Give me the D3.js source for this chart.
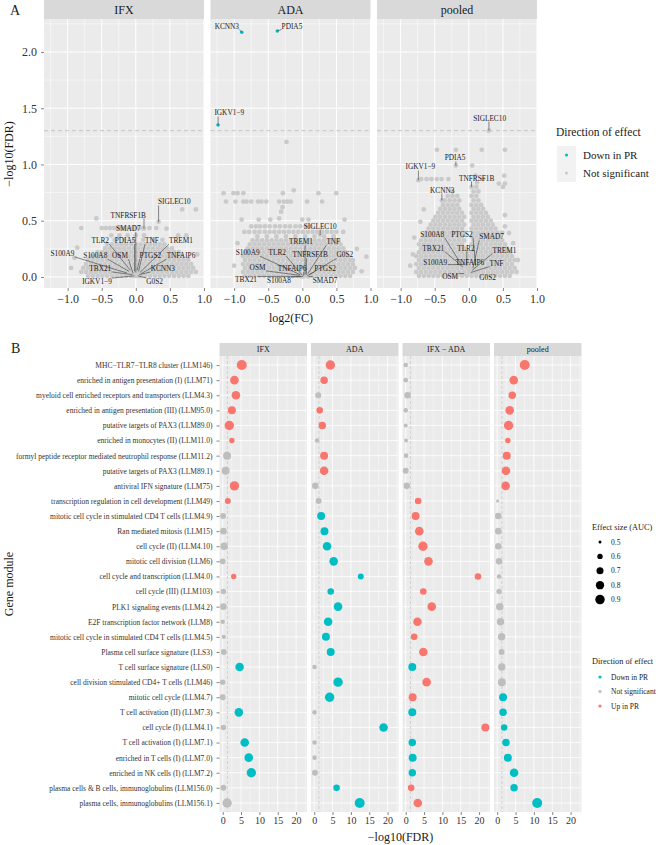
<!DOCTYPE html>
<html><head><meta charset="utf-8">
<script src="https://cdn.jsdelivr.net/npm/d3@7"></script>
<style>
body{margin:0;background:#fff;}
svg text{font-family:"Liberation Serif","Times New Roman",serif;}
</style></head>
<body><svg id="chart" width="665" height="845"></svg>
<script>
// ================= DATA =================
const volcanoFacets = ["IFX","ADA","pooled"];
const xTicksA = [-1.0,-0.5,0.0,0.5,1.0];
const yTicksA = [0.0,0.5,1.0,1.5,2.0];
const fdrThreshold = 1.3;

// dense clouds of non-significant genes: [-log10FDR level, [log2FC values]]
const cloudIFX = [
 [.01, [-.70,-.63,-.56,-.49,-.42,-.35,-.28,-.21,-.14,-.07,0,.07,.14,.21,.28,.35,.42,.49,.56,.63,.70,.77]],
 [.045,[-.80,-.73,-.66,-.59,-.52,-.45,-.38,-.31,-.24,-.17,-.10,-.03,.04,.11,.18,.25,.32,.39,.46,.53,.60,.67,.74,.81,.88]],
 [.08, [-.77,-.70,-.63,-.56,-.49,-.42,-.35,-.28,-.21,-.14,-.07,0,.07,.14,.21,.28,.35,.42,.49,.56,.63,.70,.77,.84]],
 [.115,[-.73,-.66,-.59,-.52,-.45,-.38,-.31,-.24,-.17,-.10,-.03,.04,.11,.18,.25,.32,.39,.46,.53,.60,.67,.74,.81]],
 [.15, [-.70,-.63,-.56,-.49,-.42,-.35,-.28,-.21,-.14,-.07,0,.07,.14,.21,.28,.35,.42,.49,.56,.63,.70,.77]],
 [.185,[-.66,-.59,-.52,-.45,-.38,-.31,-.24,-.17,-.10,-.03,.04,.11,.18,.25,.32,.39,.46,.53,.60,.67]],
 [.22, [-.56,-.49,-.42,-.35,-.28,-.21,-.14,-.07,0,.07,.14,.21,.28,.35,.42,.49,.56,.63]],
 [.255,[-.45,-.38,-.31,-.24,-.17,-.10,-.03,.04,.11,.18,.25,.32,.39,.46,.53]],
 [.29, [-.42,-.35,-.28,-.21,-.14,-.07,0,.07,.14,.21,.28,.35,.42]],
 [.33, [-.31,-.17,-.03,.11,.25,.39]],
 [.37, [-.36,-.24,-.12,0,.12,.74]],
 [.435,[-.80,-.50,-.44,-.38,-.32,-.26,-.20,-.14,-.08,-.02,.04,.10,.20,.30]]
];
const scatterIFX = [[-.58,.52],[.68,.6],[.88,.6],[.45,.43],[.62,.37],[-.9,.17],[-.86,.26],[.9,.2],[-.95,.08]];

const cloudADA = [
 [.01, [-.84,-.77,-.70,-.63,-.56,-.49,-.42,-.35,-.28,-.21,-.14,-.07,0,.07,.14,.21,.28,.35,.42,.49,.56,.63,.70]],
 [.045,[-.87,-.80,-.73,-.66,-.59,-.52,-.45,-.38,-.31,-.24,-.17,-.10,-.03,.04,.11,.18,.25,.32,.39,.46,.53,.60,.67,.74]],
 [.08, [-.84,-.77,-.70,-.63,-.56,-.49,-.42,-.35,-.28,-.21,-.14,-.07,0,.07,.14,.21,.28,.35,.42,.49,.56,.63,.70,.77]],
 [.115,[-.87,-.80,-.73,-.66,-.59,-.52,-.45,-.38,-.31,-.24,-.17,-.10,-.03,.04,.11,.18,.25,.32,.39,.46,.53,.60,.67,.74]],
 [.15, [-.84,-.77,-.70,-.63,-.56,-.49,-.42,-.35,-.28,-.21,-.14,-.07,0,.07,.14,.21,.28,.35,.42,.49,.56,.63,.70]],
 [.185,[-.87,-.80,-.73,-.66,-.59,-.52,-.45,-.38,-.31,-.24,-.17,-.10,-.03,.04,.11,.18,.25,.32,.39,.46,.53,.60,.67]],
 [.22, [-.84,-.77,-.70,-.63,-.56,-.49,-.42,-.35,-.28,-.21,-.14,-.07,0,.07,.14,.21,.28,.35,.42,.49,.56,.63]],
 [.255,[-.80,-.73,-.66,-.59,-.52,-.45,-.38,-.31,-.24,-.17,-.10,-.03,.04,.11,.18,.25,.32,.39,.46,.53,.60]],
 [.29, [-.77,-.70,-.63,-.56,-.49,-.42,-.35,-.28,-.21,-.14,-.07,0,.07,.14,.21,.28,.35,.42,.49,.56]],
 [.325,[-.73,-.66,-.59,-.52,-.45,-.38,-.31,-.24,-.17,-.10,-.03,.04,.11,.18,.25,.32,.39,.46,.53]],
 [.36, [-.66,-.52,-.38,-.24,-.10,.04,.18,.32,.46]],
 [.40, [-.85,-.78,-.70,-.63,-.55,-.48,-.41,-.34,-.27,-.20,-.13,-.06,.01,.08,.15,.22,.29,.36,.43,.50,.60]],
 [.45, [-.75,-.68,-.62,-.55,-.48,-.40,-.33,-.25,-.18,-.10,-.03,.05,.12]],
 [.51, [-.89,-.64,-.47,0,.09,.62]],
 [.67, [-1.12,-.98,-.865,-.82,-.75,-.65,-.60,-.53,-.34,-.27,-.22,-.17,.07,.29]],
 [.745,[-1.155,-1.01,-.95,-.865,-.285,.236,.497]]
];
const scatterADA = [[-.126,.77],[-.31,.58],[-.29,.62],[-.34,.52],[-.232,1.2],[.74,.15],[.87,.05],[.94,.18],[.8,.25],[-1.0,.1],[-.95,.3]];

const cloudPooled = [
 [.01, [-.73,-.66,-.59,-.52,-.45,-.38,-.31,-.24,-.17,-.10,-.03,.04,.11,.18,.25,.32,.39,.46,.53,.60]],
 [.045,[-.77,-.70,-.63,-.56,-.49,-.42,-.35,-.28,-.21,-.14,-.07,0,.07,.14,.21,.28,.35,.42,.49,.56,.63,.70]],
 [.08, [-.73,-.66,-.59,-.52,-.45,-.38,-.31,-.24,-.17,-.10,-.03,.04,.11,.18,.25,.32,.39,.46,.53,.60,.67]],
 [.115,[-.77,-.70,-.63,-.56,-.49,-.42,-.35,-.28,-.21,-.14,-.07,0,.07,.14,.21,.28,.35,.42,.49,.56,.63]],
 [.15, [-.73,-.66,-.59,-.52,-.45,-.38,-.31,-.24,-.17,-.10,-.03,.04,.11,.18,.25,.32,.39,.46,.53,.60,.67]],
 [.185,[-.77,-.70,-.63,-.56,-.49,-.42,-.35,-.28,-.21,-.14,-.07,0,.07,.14,.21,.28,.35,.42,.49,.56,.63]],
 [.22, [-.73,-.66,-.59,-.52,-.45,-.38,-.31,-.24,-.17,-.10,-.03,.04,.11,.18,.25,.32,.39,.46,.53,.60]],
 [.255,[-.70,-.63,-.56,-.49,-.42,-.35,-.28,-.21,-.14,-.07,.07,.14,.21,.28,.35,.42,.49,.56]],
 [.29, [-.73,-.66,-.59,-.52,-.45,-.38,-.31,-.24,-.17,-.10,.04,.11,.18,.25,.32,.39,.46,.53]],
 [.325,[-.70,-.63,-.56,-.49,-.42,-.35,-.28,-.21,-.14,-.07,.07,.14,.21,.28,.35,.42,.49]],
 [.36, [-.66,-.59,-.52,-.45,-.38,-.31,-.24,-.17,-.10,.04,.11,.18,.25,.32,.39,.46]],
 [.395,[-.63,-.56,-.49,-.42,-.35,-.28,-.21,-.14,-.07,.07,.14,.21,.28,.35,.42,.49]],
 [.43, [-.59,-.52,-.45,-.38,-.31,-.24,-.17,-.10,.04,.11,.18,.25,.32,.39]],
 [.465,[-.56,-.49,-.42,-.35,-.28,-.21,-.14,-.07,.07,.14,.21,.28,.35]],
 [.50, [-.52,-.45,-.38,-.31,-.24,-.17,-.10,.04,.11,.18,.25,.32]],
 [.535,[-.49,-.42,-.35,-.28,-.21,-.14,-.07,.07,.14,.21,.28]],
 [.57, [-.45,-.38,-.31,-.24,-.17,-.10,.04,.11,.18,.25]],
 [.605,[-.42,-.35,-.28,-.21,-.14,.07,.14,.21]],
 [.64, [-.38,-.31,-.24,-.17,.04,.11,.18]],
 [.68, [-.35,-.28,-.21,-.14,.07,.14]],
 [.72, [-.31,-.24,-.17,.04,.11]],
 [.76, [-.24,.07,.14]],
 [.80, [.11]]
];
const scatterPooled = [[-.71,.49],[.59,.39],[.53,.45],[.53,.55],[-.66,.6],[-.468,1.13],[-.19,1.13],[.19,1.13],[.53,1.13],[.05,.99],
 [-.7,.87],[-.62,.87],[-.55,.87],[-.47,.87],[-.4,.87],[-.3,.87],[.21,.87],[.44,.83],[.5,.8],[.53,.83],[.52,.9],[.1,.9],[.12,.84],
 [-.82,.2],[-.8,.35],[.72,.15],[.65,.3],[-.86,.1]];

// labelled genes: [gene, log2FC, -log10FDR, label log2FC, label -log10FDR, direction]
const genesIFX = [
 ["SIGLEC10",.334,.49,.565,.667,"ns"],["TNFRSF1B",.12,.43,-.111,.551,"ns"],["SMAD7",0,.04,-.111,.433,"ns"],
 ["TLR2",-.08,.06,-.521,.323,"ns"],["PDIA5",-.02,.05,-.159,.323,"ns"],["TNF",.04,.05,.236,.323,"ns"],
 ["TREM1",.06,.04,.662,.323,"ns"],["S100A9",-.13,.035,-1.077,.21,"ns"],["S100A8",-.1,.05,-.594,.19,"ns"],
 ["OSM",-.04,.03,-.232,.19,"ns"],["PTGS2",.02,.06,.213,.19,"ns"],["TNFAIP6",.08,.03,.662,.19,"ns"],
 ["TBX21",-.05,.02,-.521,.077,"ns"],["KCNN3",.05,.02,.396,.077,"ns"],["IGKV1−9",-.02,.01,-.57,-.04,"ns"],
 ["G0S2",.03,.01,.275,-.04,"ns"]
];
const genesADA = [
 ["KCNN3",-.888,2.175,-1.108,2.231,"down"],["PDIA5",-.367,2.187,-.152,2.231,"down"],["IGKV1−9",-1.236,1.351,-1.072,1.458,"down"],
 ["SIGLEC10",.261,.373,.261,.453,"ns"],["TREM1",.04,.02,-.019,.314,"ns"],["TNF",.08,.03,.454,.314,"ns"],
 ["S100A9",-.03,.02,-.802,.216,"ns"],["TLR2",0,.015,-.367,.216,"ns"],["TNFRSF1B",.06,.02,.116,.196,"ns"],
 ["G0S2",.1,.02,.623,.196,"ns"],["OSM",-.04,.015,-.657,.086,"ns"],["TNFAIP6",.02,.01,-.15,.077,"ns"],
 ["PTGS2",.07,.01,.334,.077,"ns"],["TBX21",-.02,.005,-.826,-.02,"ns"],["S100A8",.01,.005,-.343,-.032,"ns"],
 ["SMAD7",.09,.005,.334,-.027,"ns"]
];
const genesPooled = [
 ["SIGLEC10",.295,1.30,.305,1.413,"ns"],["PDIA5",-.19,.99,-.203,1.058,"ns"],["IGKV1−9",-.74,.86,-.71,.978,"ns"],
 ["TNFRSF1B",.04,.80,.116,.88,"ns"],["KCNN3",-.395,.68,-.391,.773,"ns"],["S100A8",-.12,.12,-.536,.382,"ns"],
 ["PTGS2",.1,.1,-.101,.382,"ns"],["SMAD7",.06,.08,.334,.356,"ns"],["TBX21",-.09,.09,-.521,.258,"ns"],
 ["TLR2",-.03,.1,-.043,.258,"ns"],["TREM1",.05,.06,.522,.24,"ns"],["S100A9",-.06,.11,-.492,.133,"ns"],
 ["TNFAIP6",0,.08,.015,.133,"ns"],["TNF",.03,.04,.406,.124,"ns"],["OSM",-.07,.03,-.275,.009,"ns"],
 ["G0S2",.12,.04,.276,0,"ns"]
];

// ----- Panel B -----
const modules = [
 "MHC−TLR7−TLR8 cluster (LLM146)","enriched in antigen presentation (I) (LLM71)",
 "myeloid cell enriched receptors and transporters (LLM4.3)","enriched in antigen presentation (III) (LLM95.0)",
 "putative targets of PAX3 (LLM89.0)","enriched in monocytes (II) (LLM11.0)",
 "formyl peptide receptor mediated neutrophil response (LLM11.2)","putative targets of PAX3 (LLM89.1)",
 "antiviral IFN signature (LLM75)","transcription regulation in cell development (LLM49)",
 "mitotic cell cycle in stimulated CD4 T cells (LLM4.9)","Ran mediated mitosis (LLM15)",
 "cell cycle (II) (LLM4.10)","mitotic cell division (LLM6)","cell cycle and transcription (LLM4.0)",
 "cell cycle (III) (LLM103)","PLK1 signaling events (LLM4.2)","E2F transcription factor network (LLM8)",
 "mitotic cell cycle in stimulated CD4 T cells (LLM4.5)","Plasma cell surface signature (LLS3)",
 "T cell surface signature (LLS0)","cell division stimulated CD4+ T cells (LLM46)","mitotic cell cycle (LLM4.7)",
 "T cell activation (II) (LLM7.3)","cell cycle (I) (LLM4.1)","T cell activation (I) (LLM7.1)",
 "enriched in T cells (I) (LLM7.0)","enriched in NK cells (I) (LLM7.2)",
 "plasma cells & B cells, immunoglobulins (LLM156.0)","plasma cells, immunoglobulins (LLM156.1)"
];
const moduleFacets = ["IFX","ADA","IFX − ADA","pooled"];
const xTicksB = [0,5,10,15,20];
const fdrIFX = [5.2,3.2,3.6,2.5,1.8,2.5,1.2,0.8,3.2,1.4,0.1,0.2,0.4,0.0,3.0,0.2,0.2,0.0,0.3,0.3,4.6,0.0,0.0,4.4,0.2,6.0,7.1,7.8,0.2,1.2];
const aucIFX = [.95,.82,.82,.77,.89,.60,.77,.77,.89,.63,.63,.67,.73,.63,.60,.60,.67,.56,.55,.63,.82,.60,.63,.82,.60,.82,.82,.89,.63,.89];
const dirIFX = ["U","U","U","U","U","U","N","N","U","U","N","N","N","N","U","N","N","N","N","N","D","N","N","D","N","D","D","D","N","N"];
const fdrADA = [4.4,2.7,1.1,1.5,2.2,0.8,2.7,2.7,0.3,1.2,1.9,2.8,3.5,5.3,12.7,4.5,6.5,3.8,3.2,4.5,0.1,6.5,4.2,0.1,18.9,0.1,0.1,0.2,6.1,12.4];
const aucADA = [.89,.73,.63,.67,.73,.56,.77,.82,.67,.63,.77,.77,.82,.82,.63,.67,.82,.82,.77,.77,.56,.89,.89,.56,.82,.56,.56,.63,.67,.95];
const dirADA = ["U","U","N","U","U","N","U","U","N","N","D","D","D","D","D","D","D","D","D","D","N","D","D","N","D","N","N","N","D","D"];
const fdrDiff = [0.0,0.0,0.5,0.0,0.0,0.1,0.1,0.0,0.3,3.4,2.7,3.7,4.7,6.2,19.7,4.8,7.1,3.2,2.3,4.8,1.8,5.7,1.9,1.8,21.7,1.8,1.9,1.8,1.5,3.3];
const aucDiff = [.56,.56,.67,.56,.53,.53,.56,.63,.67,.67,.77,.82,.89,.82,.67,.67,.82,.82,.67,.82,.77,.82,.77,.77,.77,.73,.77,.73,.67,.82];
const dirDiff = ["N","N","N","N","N","N","N","N","N","U","U","U","U","U","U","U","U","U","U","U","D","U","U","D","U","D","D","D","U","U"];
const fdrPooled = [7.5,4.5,4.1,3.4,3.1,2.9,2.6,2.4,2.3,0.1,0.3,0.3,0.3,0.5,0.5,0.5,0.7,0.9,1.2,1.2,1.25,1.28,1.6,1.6,1.9,2.4,2.9,4.6,4.6,10.9];
const aucPooled = [.95,.82,.73,.82,.89,.60,.77,.82,.82,.50,.67,.67,.67,.67,.56,.60,.73,.73,.73,.63,.73,.77,.77,.73,.67,.73,.77,.82,.73,.95];
const dirPooled = ["U","U","U","U","U","U","U","U","U","N","N","N","N","N","N","N","N","N","N","N","N","N","D","D","D","D","D","D","D","D"];
const sizeBreaks = [0.5,0.6,0.7,0.8,0.9];
const directionLabels = {D:"Down in PR", N:"Not significant", U:"Up in PR"};

// ================= DRAWING =================
const RED="#F8766D", TEAL="#00BFC4", GREY="#BEBEBE", PANEL="#EBEBEB", STRIP="#D9D9D9", TXT="#333333";
const dirColor = {D:TEAL, N:GREY, U:RED, down:TEAL, ns:"#CACACA"};
const svg = d3.select("#chart");

function styleAxis(g, size){
  g.select(".domain").remove();
  g.selectAll(".tick line").attr("stroke","#333").attr("stroke-width",0.6);
  g.selectAll(".tick text").attr("fill",TXT).attr("font-size",size)
   .attr("font-family",'"Liberation Serif","Times New Roman",serif');
}

// ---------- Panel A ----------
const aTop=19, aBot=288, aW=160, aLefts=[44,210.5,377];
const xA = d3.scaleLinear().domain([-1.347,1.0]).range([0,aW]);
const yA = d3.scaleLinear().domain([-0.098,2.293]).range([aBot,aTop]);
const clouds = {IFX:cloudIFX, ADA:cloudADA, pooled:cloudPooled};
const scatters = {IFX:scatterIFX, ADA:scatterADA, pooled:scatterPooled};
const genes = {IFX:genesIFX, ADA:genesADA, pooled:genesPooled};

svg.append("text").attr("x",10).attr("y",15).attr("font-size",14).attr("fill","#222").text("A");

volcanoFacets.forEach((f,i)=>{
  const g = svg.append("g").attr("transform",`translate(${aLefts[i]},0)`);
  g.append("rect").attr("y",aTop).attr("width",aW).attr("height",aBot-aTop).attr("fill",PANEL);
  const xMinor=[-1.25,-0.75,-0.25,0.25,0.75], yMinor=[0.25,0.75,1.25,1.75,2.25];
  g.selectAll(null).data(xMinor).join("line").attr("x1",d=>xA(d)).attr("x2",d=>xA(d)).attr("y1",aTop).attr("y2",aBot).attr("stroke","#fff").attr("stroke-width",0.5);
  g.selectAll(null).data(yMinor).join("line").attr("y1",d=>yA(d)).attr("y2",d=>yA(d)).attr("x1",0).attr("x2",aW).attr("stroke","#fff").attr("stroke-width",0.5);
  g.selectAll(null).data(xTicksA).join("line").attr("x1",d=>xA(d)).attr("x2",d=>xA(d)).attr("y1",aTop).attr("y2",aBot).attr("stroke","#fff").attr("stroke-width",1);
  g.selectAll(null).data(yTicksA).join("line").attr("y1",d=>yA(d)).attr("y2",d=>yA(d)).attr("x1",0).attr("x2",aW).attr("stroke","#fff").attr("stroke-width",1);

  // threshold
  g.append("line").attr("x1",0).attr("x2",aW).attr("y1",yA(fdrThreshold)).attr("y2",yA(fdrThreshold))
    .attr("stroke","#C4C4C4").attr("stroke-width",1).attr("stroke-dasharray","4,3");
  // points
  const pts = [];
  clouds[f].forEach(([y,xs])=>xs.forEach(x=>pts.push([x,y])));
  scatters[f].forEach(p=>pts.push(p));
  g.append("g").selectAll("circle").data(pts).join("circle")
    .attr("cx",d=>xA(d[0])).attr("cy",d=>yA(d[1])).attr("r",2.4)
    .attr("fill","#CACACA");
  // gene points
  g.append("g").selectAll("circle").data(genes[f]).join("circle")
    .attr("cx",d=>xA(d[1])).attr("cy",d=>yA(d[2])).attr("r",d=>d[5]==="down"?1.8:2.4)
    .attr("fill",d=>dirColor[d[5]]);
  // labels + segments
  const lg = g.append("g");
  genes[f].forEach(d=>{
    const t = lg.append("text").attr("x",xA(d[3])).attr("y",yA(d[4])).attr("dy","0.35em")
      .attr("text-anchor","middle").attr("font-size",7.3).attr("fill","#1a1a1a").text(d[0]);
    const bb = t.node().getBBox();
    const px=xA(d[1]), py=yA(d[2]);
    const nx=Math.max(bb.x,Math.min(px,bb.x+bb.width)), ny=Math.max(bb.y+1,Math.min(py,bb.y+bb.height-1));
    const len=Math.hypot(nx-px,ny-py);
    if(len>3){
      lg.insert("line","text").attr("x1",px).attr("y1",py).attr("x2",nx).attr("y2",ny)
        .attr("stroke","#3a3a3a").attr("stroke-width",0.6);
    }
  });
  // strip
  g.append("rect").attr("y",0).attr("width",aW).attr("height",aTop).attr("fill",STRIP);
  g.append("text").attr("x",aW/2).attr("y",aTop/2).attr("dy","0.36em").attr("text-anchor","middle")
    .attr("font-size",12).attr("fill","#1a1a1a").text(f);
  // x axis
  const ax = g.append("g").attr("transform",`translate(0,${aBot})`)
    .call(d3.axisBottom(xA).tickValues(xTicksA).tickSize(3).tickPadding(3).tickFormat(d3.format(".1f")));
  styleAxis(ax,12);
  if(i===0){
    const ay = g.append("g").call(d3.axisLeft(yA).tickValues(yTicksA).tickSize(3).tickPadding(4).tickFormat(d3.format(".1f")));
    styleAxis(ay,12);
  }
});
svg.append("text").attr("transform","translate(13,154) rotate(-90)").attr("text-anchor","middle")
  .attr("font-size",12).attr("fill","#1a1a1a").text("−log10(FDR)");
svg.append("text").attr("x",291).attr("y",322).attr("text-anchor","middle")
  .attr("font-size",12).attr("fill","#1a1a1a").text("log2(FC)");

// legend A
const legA = svg.append("g");
legA.append("text").attr("x",556).attr("y",136).attr("font-size",11.5).attr("fill","#1a1a1a").text("Direction of effect");
["down","ns"].forEach((k,j)=>{
  const cy = 155 + j*18;
  legA.append("rect").attr("x",557).attr("y",cy-9).attr("width",19).attr("height",18).attr("fill","#F2F2F2");
  legA.append("circle").attr("cx",566.5).attr("cy",cy).attr("r",1.6).attr("fill",dirColor[k]);
  legA.append("text").attr("x",583).attr("y",cy).attr("dy","0.35em").attr("font-size",11).attr("fill","#1a1a1a")
    .text(k==="down"?"Down in PR":"Not significant");
});

// ---------- Panel B ----------
const bStrip=343, bTop=356, bBot=812, bW=87.5, bLefts=[219.5,311,402.5,494];
const xB = d3.scaleLinear().domain([-0.87,22.97]).range([0,bW]);
const yB = d3.scalePoint().domain(modules).range([bTop,bBot]).padding(0.6);
const rB = d3.scaleRadial().domain([0.5,0.95]).range([1.5,5.0]).clamp(true);
const bData = [[fdrIFX,aucIFX,dirIFX],[fdrADA,aucADA,dirADA],[fdrDiff,aucDiff,dirDiff],[fdrPooled,aucPooled,dirPooled]];

svg.append("text").attr("x",11).attr("y",353).attr("font-size",14).attr("fill","#222").text("B");

moduleFacets.forEach((f,i)=>{
  const g = svg.append("g").attr("transform",`translate(${bLefts[i]},0)`);
  g.append("rect").attr("y",bTop).attr("width",bW).attr("height",bBot-bTop).attr("fill",PANEL);
  const xMinor=[2.5,7.5,12.5,17.5,22.5];
  g.selectAll(null).data(xMinor).join("line").attr("x1",d=>xB(d)).attr("x2",d=>xB(d)).attr("y1",bTop).attr("y2",bBot).attr("stroke","#fff").attr("stroke-width",0.4);
  g.selectAll(null).data(xTicksB).join("line").attr("x1",d=>xB(d)).attr("x2",d=>xB(d)).attr("y1",bTop).attr("y2",bBot).attr("stroke","#fff").attr("stroke-width",0.8);
  g.selectAll(null).data(modules).join("line").attr("y1",d=>yB(d)).attr("y2",d=>yB(d)).attr("x1",0).attr("x2",bW).attr("stroke","#fff").attr("stroke-width",0.8);
  g.append("line").attr("x1",xB(fdrThreshold)).attr("x2",xB(fdrThreshold)).attr("y1",bTop).attr("y2",bBot)
    .attr("stroke","#C8C8C8").attr("stroke-width",0.7).attr("stroke-dasharray","3,2");
  const [fdr,auc,dir] = bData[i];
  g.append("g").selectAll("circle").data(modules).join("circle")
    .attr("cx",(d,j)=>xB(fdr[j])).attr("cy",d=>yB(d)).attr("r",(d,j)=>rB(auc[j]))
    .attr("fill",(d,j)=>dirColor[dir[j]]);
  g.append("rect").attr("y",bStrip).attr("width",bW).attr("height",bTop-bStrip).attr("fill",STRIP);
  g.append("text").attr("x",bW/2).attr("y",(bStrip+bTop)/2).attr("dy","0.36em").attr("text-anchor","middle")
    .attr("font-size",8).attr("fill","#1a1a1a").text(f);
  const ax = g.append("g").attr("transform",`translate(0,${bBot})`)
    .call(d3.axisBottom(xB).tickValues(xTicksB).tickSize(3).tickPadding(2).tickFormat(d3.format("d")));
  styleAxis(ax,10);
  if(i===0){
    const ay = g.append("g").call(d3.axisLeft(yB).tickSize(3).tickPadding(4));
    styleAxis(ay,7.5);
  }
});
svg.append("text").attr("transform","translate(13,584) rotate(-90)").attr("text-anchor","middle")
  .attr("font-size",12).attr("fill","#1a1a1a").text("Gene module");
svg.append("text").attr("x",400.5).attr("y",841).attr("text-anchor","middle")
  .attr("font-size",12).attr("fill","#1a1a1a").text("−log10(FDR)");

// legends B
const legB = svg.append("g");
legB.append("text").attr("x",592).attr("y",530).attr("font-size",8.3).attr("fill","#1a1a1a").text("Effect size (AUC)");
sizeBreaks.forEach((b,j)=>{
  const cy = 542 + j*14.4;
  legB.append("circle").attr("cx",600).attr("cy",cy).attr("r",rB(b)).attr("fill","#000");
  legB.append("text").attr("x",611).attr("y",cy).attr("dy","0.35em").attr("font-size",7.5).attr("fill","#1a1a1a").text(b.toFixed(1));
});
legB.append("text").attr("x",592).attr("y",664).attr("font-size",8.3).attr("fill","#1a1a1a").text("Direction of effect");
["D","N","U"].forEach((k,j)=>{
  const cy = 677 + j*14.5;
  legB.append("circle").attr("cx",600).attr("cy",cy).attr("r",1.6).attr("fill",dirColor[k]);
  legB.append("text").attr("x",611).attr("y",cy).attr("dy","0.35em").attr("font-size",7.5).attr("fill","#1a1a1a").text(directionLabels[k]);
});
</script></body></html>
